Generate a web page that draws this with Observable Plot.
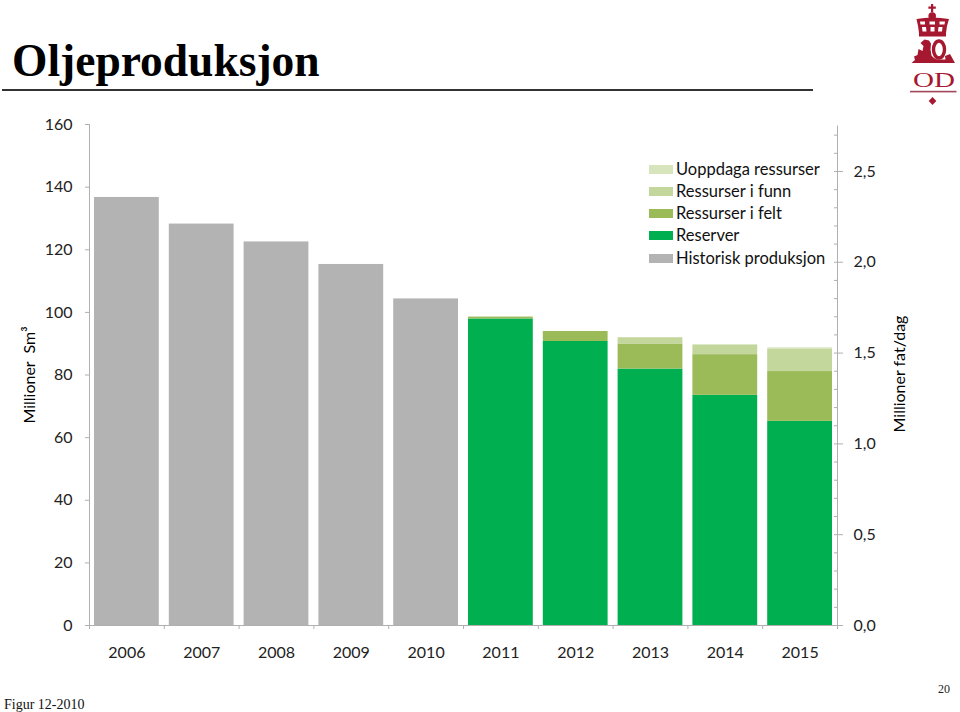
<!DOCTYPE html>
<html>
<head>
<meta charset="utf-8">
<script src="https://cdn.jsdelivr.net/npm/d3@7"></script>
<script src="https://cdn.jsdelivr.net/npm/@observablehq/plot@0.6"></script>
<style>
  html, body { margin: 0; padding: 0; background: #fff; }
  #page { position: relative; width: 960px; height: 712px; overflow: hidden; }
  #chart svg { position: absolute; left: 0; top: 0; }
  .abs { position: absolute; white-space: nowrap; line-height: 1; color: #000; }
  #title { left: 12px; top: 34px; font: bold 45.5px "Liberation Serif", serif; }
  #rule { position: absolute; left: 2px; top: 89px; width: 811px; height: 2px; background: #333; }
  #fig { left: 4px; top: 697px; font: 14px "Liberation Serif", serif; color: #111; }
  #num { left: 938px; top: 682px; font: 12px "Liberation Serif", serif; color: #222; }
  .ylab { font: 16px Lato, sans-serif; transform: translate(-50%, -50%) rotate(-90deg); }
  .lg { position: absolute; left: 649px; }
  .lg i { position: absolute; left: 0; top: 5px; width: 24px; height: 9px; }
  .lg span { position: absolute; left: 27px; top: 0; font: 16.5px Lato, sans-serif; white-space: nowrap; line-height: 19px; color: #111; }
</style>
</head>
<body>
<div id="page">
  <div id="chart"></div>
  <div class="abs" id="title">Oljeproduksjon</div>
  <div id="rule"></div>
  <div class="abs ylab" style="left:28px;top:375px">Millioner&nbsp; Sm³</div>
  <div class="abs ylab" style="left:898px;top:374px">Millioner fat/dag</div>
  <div id="legend"></div>
  <div class="abs" id="fig">Figur 12-2010</div>
  <div class="abs" id="num">20</div>
  <svg id="logo" width="60" height="110" viewBox="900 0 60 110" style="position:absolute;left:900px;top:0" fill="#a5182f">
    <path d="M931 4h2.2v2.6h2.6v2.2h-2.6v3.4H931V8.8h-2.6V6.6H931z"/>
    <circle cx="932.2" cy="16" r="3.8"/>
    <path d="M916.5 19q8-1.5 16-1.5t16.500 1.500l-2 7-1 7v3.500h-27v-3.500l-1-7z"/>
    <g fill="#fff">
      <path d="M920 21.500h5v3h-4.500zM929.500 21.500h5.500v3h-5.500zM939.500 21.500h5.500l-.5 3h-5z"/>
      <path d="M922 27h4l.5 4.500h-4zM930.500 27h4v4.500h-4zM938.500 27h4l-.5 4.500h-4z"/>
    </g>
    <path d="M911.500 63l3.500-3-1-3.500 3.500-1.500 1-6 4 2 1-5-3-3 4-3.500 4.500 1 2 3-.5 6 1 6q3 4 7 4h13l-1 3.500z"/>
    <path d="M945 56l5-2 5 9h-9z"/>
    <ellipse cx="939" cy="49.500" rx="5.500" ry="8.500" fill="none" stroke="#a5182f" stroke-width="3.400"/>
    <text x="934" y="86.500" text-anchor="middle" font-family="Liberation Serif, serif" font-size="22" textLength="42" lengthAdjust="spacingAndGlyphs">OD</text>
    <rect x="910" y="90.800" width="46.500" height="1.600" fill="#a5475a"/>
    <path d="M932.500 97l3.800 4-3.800 4-3.800-4z"/>
  </svg>
</div>
<script>
const years = [2006, 2007, 2008, 2009, 2010, 2011, 2012, 2013, 2014, 2015];
const historisk = [136.7, 128.2, 122.5, 115.3, 104.3, 0, 0, 0, 0, 0];
const reserver  = [0, 0, 0, 0, 0, 97.9, 90.7, 81.9, 73.5, 65.2];
const felt      = [0, 0, 0, 0, 0, 0.6, 3.2, 8.0, 13.0, 15.9];
const funn      = [0, 0, 0, 0, 0, 0, 0, 2.0, 3.1, 7.2];
const uoppdaga  = [0, 0, 0, 0, 0, 0, 0, 0, 0, 0.4];

const layers = ["Historisk produksjon", "Reserver", "Ressurser i felt", "Ressurser i funn", "Uoppdaga ressurser"];
const layerValues = [historisk, reserver, felt, funn, uoppdaga];
const layerColors = ["#b3b3b3", "#00b050", "#9bbb59", "#c3d69b", "#d7e4bc"];

const leftTicks = [0, 20, 40, 60, 80, 100, 120, 140, 160];
const rightMajor = [0, 0.5, 1, 1.5, 2, 2.5];
const rightMinor = [0.1, 0.2, 0.3, 0.4, 0.6, 0.7, 0.8, 0.9, 1.1, 1.2, 1.3, 1.4, 1.6, 1.7, 1.8, 1.9, 2.1, 2.2, 2.3, 2.4, 2.6, 2.7];
const sm3PerMbd = 58; // 1 million fat/dag is about 58 million Sm3 a year
const rightTop = 2.75;

const rows = [];
years.forEach((year, i) => {
  let base = 0;
  layers.forEach((layer, j) => {
    const v = layerValues[j][i];
    if (v > 0) rows.push({year, layer, y1: base, y2: base + v});
    base += v;
  });
});

const boundaries = years.map(y => y - 0.5).concat(years[years.length - 1] + 0.5);
const axisGray = "#b0b0b0";
const xMin = boundaries[0], xMax = boundaries[boundaries.length - 1];

const chart = Plot.plot({
  width: 960,
  height: 712,
  marginLeft: 89,
  marginRight: 123,
  marginTop: 124,
  marginBottom: 87,
  style: {fontFamily: "Lato, sans-serif", fontSize: "16px", background: "transparent", color: "#111", overflow: "visible"},
  x: {type: "linear", domain: [xMin, xMax]},
  y: {domain: [0, 160]},
  color: {domain: layers, range: layerColors},
  marks: [
    Plot.rect(rows, {
      x1: d => d.year - 0.5, x2: d => d.year + 0.5,
      y1: "y1", y2: "y2", fill: "layer", insetLeft: 5, insetRight: 5
    }),
    Plot.ruleX([xMin], {y1: 0, y2: 160, stroke: axisGray}),
    Plot.ruleX([xMax], {y1: 0, y2: rightTop * sm3PerMbd, stroke: axisGray}),
    Plot.ruleY([0], {stroke: axisGray}),
    Plot.axisY(leftTicks, {anchor: "left", label: null, tickSize: 4, tickPadding: 13, stroke: axisGray, fill: "#222"}),
    Plot.axisX(boundaries, {anchor: "bottom", label: null, tickSize: 4, tickFormat: () => "", stroke: axisGray}),
    Plot.axisX(years, {anchor: "bottom", label: null, tickSize: 0, tickPadding: 21, tickFormat: d => String(d), fill: "#222"}),
    Plot.axisY(rightMajor.map(v => v * sm3PerMbd), {
      anchor: "right", label: null, tickSize: 5, tickPadding: 11, stroke: axisGray, fill: "#222",
      tickFormat: v => (v / sm3PerMbd).toFixed(1).replace(".", ",")
    }),
    Plot.axisY(rightMajor.concat(rightMinor).map(v => v * sm3PerMbd), {
      anchor: "right", label: null, tickSize: -4, tickFormat: () => "", stroke: axisGray
    })
  ]
});
document.getElementById("chart").appendChild(chart);

const legendOrder = ["Uoppdaga ressurser", "Ressurser i funn", "Ressurser i felt", "Reserver", "Historisk produksjon"];
const legendTops = [160, 182, 204, 226, 249];
const legend = document.getElementById("legend");
legendOrder.forEach((name, i) => {
  const row = document.createElement("div");
  row.className = "lg";
  row.style.top = legendTops[i] + "px";
  const sw = document.createElement("i");
  sw.style.background = layerColors[layers.indexOf(name)];
  const tx = document.createElement("span");
  tx.textContent = name;
  row.append(sw, tx);
  legend.appendChild(row);
});
</script>
</body>
</html>
